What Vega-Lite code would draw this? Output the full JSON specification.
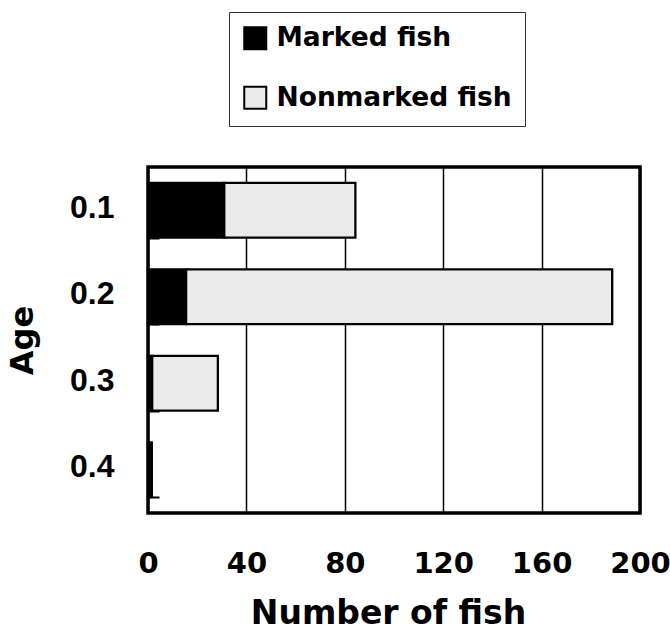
{
  "$schema": "https://vega.github.io/schema/vega-lite/v6.json",
  "width": 492,
  "height": 346,
  "autosize": {"type": "none"},
  "padding": {"left": 148, "top": 167, "right": 30, "bottom": 123},
  "background": "white",
  "data": {
    "values": [
      {"age": "0.1", "type": "Marked fish", "n": 31, "ord": 1},
      {"age": "0.1", "type": "Nonmarked fish", "n": 53.3, "ord": 2},
      {"age": "0.2", "type": "Marked fish", "n": 15.5, "ord": 1},
      {"age": "0.2", "type": "Nonmarked fish", "n": 173.2, "ord": 2},
      {"age": "0.3", "type": "Marked fish", "n": 1.7, "ord": 1},
      {"age": "0.3", "type": "Nonmarked fish", "n": 26.7, "ord": 2},
      {"age": "0.4", "type": "Marked fish", "n": 1.5, "ord": 1},
      {"age": "0.4", "type": "Nonmarked fish", "n": 0, "ord": 2}
    ]
  },
  "mark": {"type": "bar", "stroke": "black", "strokeWidth": 2.3, "opacity": 1},
  "encoding": {
    "y": {
      "field": "age",
      "type": "nominal",
      "title": "Age",
      "scale": {"paddingInner": 0.366, "paddingOuter": 0.183},
      "axis": {
        "domain": false,
        "tickBand": "extent",
        "tickSize": -11,
        "tickColor": "black",
        "tickWidth": 2,
        "labelPadding": 45,
        "labelOffset": -3,
        "labelFont": "Liberation Sans",
        "labelFontSize": 32,
        "labelFontWeight": "bold",
        "labelColor": "black",
        "labelAngle": 0,
        "titleFont": "DejaVu Sans",
        "titleFontSize": 32,
        "titleFontWeight": "bold",
        "titleColor": "black",
        "titlePadding": 30
      }
    },
    "x": {
      "field": "n",
      "type": "quantitative",
      "stack": "zero",
      "title": "Number of fish",
      "scale": {"domain": [0, 200], "nice": false},
      "axis": {
        "values": [0, 40, 80, 120, 160, 200],
        "domain": false,
        "ticks": false,
        "grid": true,
        "gridColor": "black",
        "gridWidth": 1.5,
        "gridOpacity": 1,
        "labelPadding": 36,
        "labelFont": "DejaVu Sans",
        "labelFontSize": 29,
        "labelFontWeight": "bold",
        "labelColor": "black",
        "labelFlush": false,
        "titleFont": "DejaVu Sans",
        "titleFontSize": 33,
        "titleFontWeight": "bold",
        "titleColor": "black",
        "titlePadding": 19,
        "titleX": 240
      }
    },
    "color": {
      "field": "type",
      "type": "nominal",
      "scale": {"domain": ["Marked fish", "Nonmarked fish"], "range": ["black", "#ebebeb"]},
      "legend": {
        "title": null,
        "orient": "none",
        "legendX": 81,
        "legendY": -155,
        "strokeColor": "#333333",
        "padding": 13,
        "symbolType": "square",
        "symbolSize": 484,
        "symbolStrokeColor": "black",
        "symbolStrokeWidth": 2,
        "symbolOpacity": 1,
        "labelFont": "DejaVu Sans",
        "labelFontSize": 26.5,
        "labelFontWeight": "bold",
        "labelColor": "black",
        "labelOffset": 8,
        "rowPadding": 28.5,
        "labelLimit": 400
      }
    },
    "order": {"field": "ord", "type": "quantitative"}
  },
  "config": {
    "view": {"stroke": "black", "strokeWidth": 3.5},
    "axis": {"gridZIndex": 0}
  }
}
